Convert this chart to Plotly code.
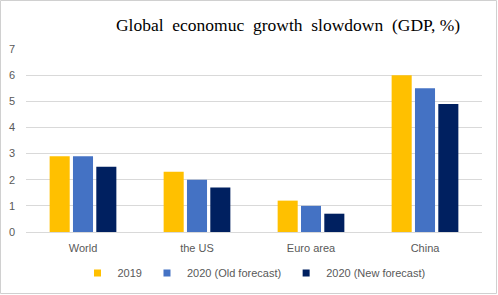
import plotly.graph_objects as go

categories = ["World", "the US", "Euro area", "China"]
series_names = ["2019", "2020 (Old forecast)", "2020 (New forecast)"]
v2019 = [2.9, 2.3, 1.2, 6.0]
v2020_old = [2.9, 2.0, 1.0, 5.5]
v2020_new = [2.5, 1.7, 0.7, 4.9]
colors = ["#FFC000", "#4472C4", "#002060"]
y_ticks = [0, 1, 2, 3, 4, 5, 6, 7]

fig = go.Figure()
for name, vals, c in zip(series_names, [v2019, v2020_old, v2020_new], colors):
    fig.add_trace(go.Bar(x=categories, y=vals, name=name, showlegend=False,
                         marker=dict(color=c, line=dict(width=0))))
# legend entries with small square keys
for name, c in zip(series_names, colors):
    fig.add_trace(go.Scatter(x=[None], y=[None], mode="markers", name=name,
                             marker=dict(symbol="square", size=7, color=c)))

W, H = 498, 295
ml, mr, mt, mb = 26, 16, 49, 63
pw, ph = W - ml - mr, H - mt - mb

fig.update_layout(
    width=W, height=H,
    margin=dict(l=ml, r=mr, t=mt, b=mb, autoexpand=False),
    paper_bgcolor="white", plot_bgcolor="white",
    barmode="group", bargap=0.386, bargroupgap=0.14,
    title=dict(text="Global  economuc  growth  slowdown  (GDP, %)",
               x=288 / W, xanchor="center", y=1 - 25 / H, yanchor="middle",
               font=dict(family="Liberation Serif", size=17.5, color="black")),
    font=dict(family="Liberation Sans", size=11, color="#595959"),
    xaxis=dict(showline=False, ticks="", tickfont=dict(size=11, color="#595959"),
               ticklabelstandoff=8, fixedrange=True),
    yaxis=dict(range=[0, 7], tickvals=y_ticks, showgrid=True, gridcolor="#D9D9D9",
               gridwidth=1, zeroline=True, zerolinecolor="#D9D9D9", zerolinewidth=1,
               ticks="", tickfont=dict(size=11, color="#595959"), ticklabelstandoff=10,
               fixedrange=True),
    legend=dict(orientation="h", x=0.5, xanchor="center", y=-41 / ph, yanchor="middle",
                font=dict(size=11, color="#595959"), itemwidth=30, traceorder="normal",
                tracegroupgap=0),
    showlegend=True,
    shapes=[dict(type="rect", xref="paper", yref="paper",
                 x0=-(ml - 0.5) / pw, x1=1 + (mr - 1.5) / pw,
                 y0=-(mb - 1.5) / ph, y1=1 + (mt - 0.5) / ph,
                 line=dict(color="#D0D0D0", width=1), layer="below")],
)

fig.write_html("out.html", config={"displayModeBar": False},
               post_script="document.body.style.margin='0';")
